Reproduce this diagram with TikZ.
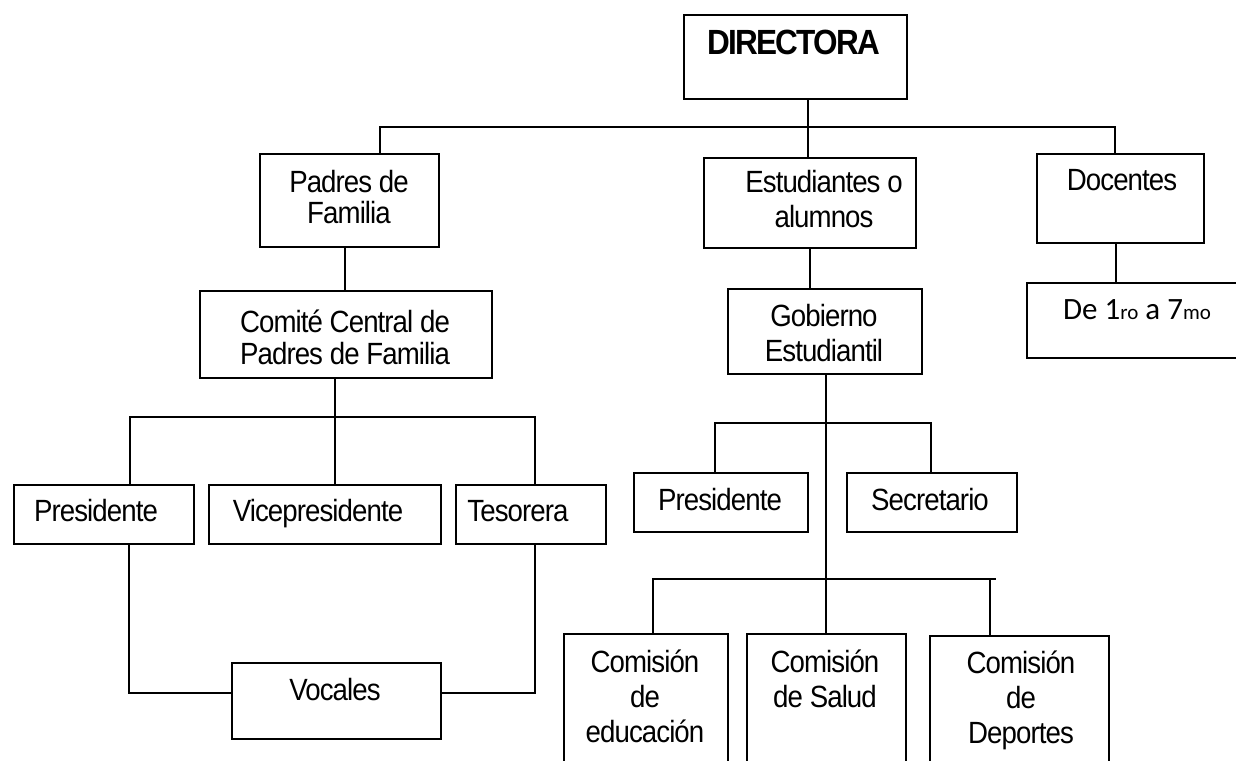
\documentclass[tikz,border=0pt]{standalone}
\usepackage{fontspec}
\setmainfont{Liberation Sans}[FakeStretch=0.9, LetterSpace=-3]
\newfontfamily\dirfont{Liberation Sans}[FakeStretch=0.9, LetterSpace=-5]
\newfontfamily\calfont{Carlito}
\begin{document}
\begin{tikzpicture}[x=1pt,y=-1pt,
  box/.style={draw, line width=1.8pt, inner sep=0pt, anchor=north west},
  ln/.style={line width=1.8pt},
  txt/.style={inner sep=0pt, align=center, anchor=base, font=\fontsize{30.7}{35}\selectfont}]
\useasboundingbox (0,0) rectangle (1236,760);
\clip (0,0) rectangle (1236,760);
\fill[white] (0,0) rectangle (1236,760);
% boxes
\node[box, minimum width=223pt, minimum height=84pt] (dir) at (683,14) {};
\node[box, minimum width=179pt, minimum height=93pt] (pf) at (259,153) {};
\node[box, minimum width=212pt, minimum height=90pt] (est) at (703,157) {};
\node[box, minimum width=167pt, minimum height=89pt] (doc) at (1036,153) {};
\node[box, minimum width=292pt, minimum height=87pt] (cc) at (199,290) {};
\node[box, minimum width=194pt, minimum height=85pt] (gob) at (727,288) {};
\node[box, minimum width=224pt, minimum height=75pt] (dg) at (1026,282) {};
\node[box, minimum width=180pt, minimum height=59pt] (pres) at (13,484) {};
\node[box, minimum width=232pt, minimum height=59pt] (vice) at (208,484) {};
\node[box, minimum width=150pt, minimum height=59pt] (tes) at (455,484) {};
\node[box, minimum width=209pt, minimum height=76pt] (voc) at (231,662) {};
\node[box, minimum width=174pt, minimum height=59pt] (p2) at (633,472) {};
\node[box, minimum width=170pt, minimum height=59pt] (sec) at (846,472) {};
\node[box, minimum width=164pt, minimum height=147pt] (c1) at (563,633) {};
\node[box, minimum width=159pt, minimum height=147pt] (c2) at (746,633) {};
\node[box, minimum width=179pt, minimum height=145pt] (c3) at (929,635) {};
% texts (anchor = baseline of last line)
\node[txt, font=\dirfont\bfseries\fontsize{35}{40}\selectfont] (tdir) at (794,55) {DIRECTORA};
\node[txt] (tpf) at (349,223) {Padres de\\[-4pt]Familia};
\node[txt] (test) at (824,227) {Estudiantes o\\alumnos};
\node[txt] (tdoc) at (1122,190) {Docentes};
\node[txt] (tcc) at (345,364) {Comité Central de\\[-3pt]Padres de Familia};
\node[txt] (tgob) at (824,361) {Gobierno\\Estudiantil};
\node[txt, font=\calfont\fontsize{31}{35}\selectfont] (tdg) at (1137,319) {De 1{\fontsize{21}{25}\selectfont ro} a 7{\fontsize{21}{25}\selectfont mo}};
\node[txt] (tpres) at (96,521) {Presidente};
\node[txt] (tvice) at (318,521) {Vicepresidente};
\node[txt] (ttes) at (518,521) {Tesorera};
\node[txt] (tvoc) at (335,700) {Vocales};
\node[txt] (tp2) at (720,510) {Presidente};
\node[txt] (tsec) at (930,510) {Secretario};
\node[txt] (tc1) at (645,742) {Comisión\\de\\educación};
\node[txt] (tc2) at (825,707) {Comisión\\de Salud};
\node[txt] (tc3) at (1021,743) {Comisión\\de\\Deportes};
% bus coordinates
\coordinate (dirdrop) at (808,127);
\coordinate (busA) at (380,127);
\coordinate (busB) at (1115,127);
\coordinate (estdrop) at (810,0);
\coordinate (pfdrop) at (345,0);
\coordinate (ccb) at (335,417);
\coordinate (bl) at (130,417);
\coordinate (br) at (535,417);
\coordinate (vl) at (129,693);
\coordinate (vr) at (535,693);
\coordinate (gd) at (826,423);
\coordinate (sl) at (715,423);
\coordinate (sr) at (931,423);
\coordinate (cb) at (826,579);
\coordinate (cl) at (652,579);
\coordinate (cr) at (996,579);
\coordinate (c1d) at (653,579);
\coordinate (c3d) at (990,579);
\coordinate (dd) at (1116,0);
% connectors
\draw[ln] (dir.south -| dirdrop) -- (dirdrop);
\draw[ln] (pf.north -| busA) -- (busA) -- (busB) -- (doc.north -| busB);
\draw[ln] (dirdrop) -- (est.north -| dirdrop);
\draw[ln] (pf.south -| pfdrop) -- (cc.north -| pfdrop);
\draw[ln] (cc.south -| ccb) -- (ccb);
\draw[ln] (pres.north -| bl) -- (bl) -- (br) -- (tes.north -| br);
\draw[ln] (ccb) -- (vice.north -| ccb);
\draw[ln] (pres.south -| vl) -- (vl) -- (voc.west |- vl);
\draw[ln] (tes.south -| vr) -- (vr) -- (voc.east |- vr);
\draw[ln] (est.south -| estdrop) -- (gob.north -| estdrop);
\draw[ln] (gob.south -| gd) -- (cb);
\draw[ln] (p2.north -| sl) -- (sl) -- (sr) -- (sec.north -| sr);
\draw[ln] (cl) -- (cr);
\draw[ln] (c1d) -- (c1.north -| c1d);
\draw[ln] (cb) -- (c2.north -| cb);
\draw[ln] (c3d) -- (c3.north -| c3d);
\draw[ln] (doc.south -| dd) -- (dg.north -| dd);
\end{tikzpicture}
\end{document}
